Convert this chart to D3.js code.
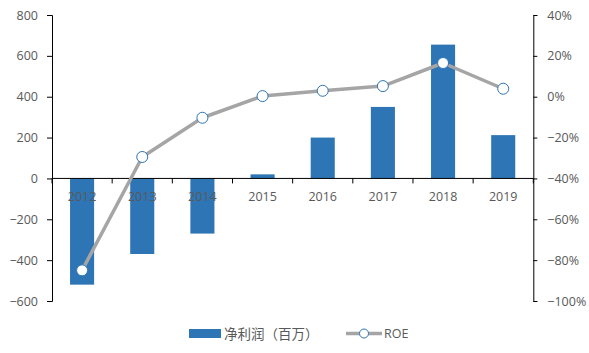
<!DOCTYPE html>
<html><head><meta charset="utf-8">
<script src="https://cdn.jsdelivr.net/npm/d3@7"></script>
<style>body{margin:0;background:#fff}</style>
</head><body>
<svg id="c" width="589" height="353"></svg>
<script>
const categories = ["2012","2013","2014","2015","2016","2017","2018","2019"];
const netProfit = [-520, -370, -270, 20, 200, 350, 655, 212];
const roe = [-0.85, -0.295, -0.103, 0.003, 0.029, 0.052, 0.165, 0.039];
const leftTicks = [800, 600, 400, 200, 0, -200, -400, -600];
const rightTicks = [0.4, 0.2, 0, -0.2, -0.4, -0.6, -0.8, -1.0];
const seriesNames = ["净利润（百万）", "ROE"];

const svg = d3.select("#c");
const L = 52, R = 533.3, T = 15, B = 301;
const font = "'Open Sans', sans-serif";
const x = d3.scaleBand().domain(categories).range([L, R]).paddingInner(0.6).paddingOuter(0.3);
const xb = d3.scaleBand().domain(categories).range([L, R]);
const y = d3.scaleLinear().domain([-600, 800]).range([B, T]);
const y2 = d3.scaleLinear().domain([-1.0, 0.4]).range([B, T]);

// bars
svg.append("g").selectAll("rect").data(categories).join("rect")
  .attr("x", d => x(d)).attr("width", x.bandwidth())
  .attr("y", (d,i) => y(Math.max(0, netProfit[i])))
  .attr("height", (d,i) => Math.abs(y(netProfit[i]) - y(0)))
  .attr("fill", "#2E75B6");

// x axis
const gx = svg.append("g").attr("transform", `translate(0,${y(0)})`);
gx.append("line").attr("x1", L).attr("x2", R).attr("stroke", "#000").attr("stroke-width", 1);
gx.selectAll("line.t").data(d3.range(categories.length + 1)).join("line").attr("class","t")
  .attr("x1", i => L + i * xb.step()).attr("x2", i => L + i * xb.step())
  .attr("y1", 0).attr("y2", 5).attr("stroke", "#000");
gx.selectAll("text").data(categories).join("text")
  .attr("x", d => xb(d) + xb.bandwidth()/2).attr("y", 23)
  .attr("text-anchor", "middle").attr("font-family", font).attr("font-size", 12.5)
  .attr("fill", "#595959").text(d => d);

// left axis
const ga = svg.append("g").attr("transform", `translate(${L},0)`)
  .call(d3.axisLeft(y).tickValues(leftTicks).tickSize(5).tickPadding(9).tickFormat(d3.format("d")));
ga.select(".domain").attr("stroke", "#000");
ga.selectAll(".tick line").attr("stroke", "#000");
ga.selectAll("text").attr("font-family", font).attr("font-size", 12.5).attr("fill", "#595959");

// right axis
const gr = svg.append("g").attr("transform", `translate(${R},0)`)
  .call(d3.axisRight(y2).tickValues(rightTicks).tickSize(4).tickPadding(10).tickFormat(d3.format(".0%")));
gr.select(".domain").attr("stroke", "#000");
gr.selectAll(".tick line").attr("stroke", "#000");
gr.selectAll("text").attr("font-family", font).attr("font-size", 12.5).attr("fill", "#595959");

// line
const cx = d => xb(d) + xb.bandwidth()/2;
svg.append("path").datum(categories)
  .attr("d", d3.line().x(d => cx(d)).y((d,i) => y2(roe[i])))
  .attr("fill", "none").attr("stroke", "#A5A5A5").attr("stroke-width", 3.5).attr("stroke-linejoin","round");
svg.append("g").selectAll("circle").data(categories).join("circle")
  .attr("cx", d => cx(d)).attr("cy", (d,i) => y2(roe[i])).attr("r", 5.5)
  .attr("fill", "#fff").attr("stroke", "#2E75B6").attr("stroke-width", 1);

// legend
const lg = svg.append("g");
lg.append("rect").attr("x", 189).attr("y", 329).attr("width", 32).attr("height", 9).attr("fill", "#2E75B6");
lg.append("text").attr("x", 224).attr("y", 338.5).attr("font-family", "'Noto Sans CJK SC', sans-serif")
  .attr("font-size", 13.5).attr("fill", "#595959").text(seriesNames[0]);
lg.append("line").attr("x1", 346).attr("x2", 382).attr("y1", 333.5).attr("y2", 333.5)
  .attr("stroke", "#A5A5A5").attr("stroke-width", 3.5);
lg.append("circle").attr("cx", 364).attr("cy", 333.5).attr("r", 4.5)
  .attr("fill", "#fff").attr("stroke", "#2E75B6").attr("stroke-width", 1);
lg.append("text").attr("x", 384).attr("y", 338).attr("font-family", font)
  .attr("font-size", 12.5).attr("fill", "#595959").text(seriesNames[1]);
</script>
</body></html>
